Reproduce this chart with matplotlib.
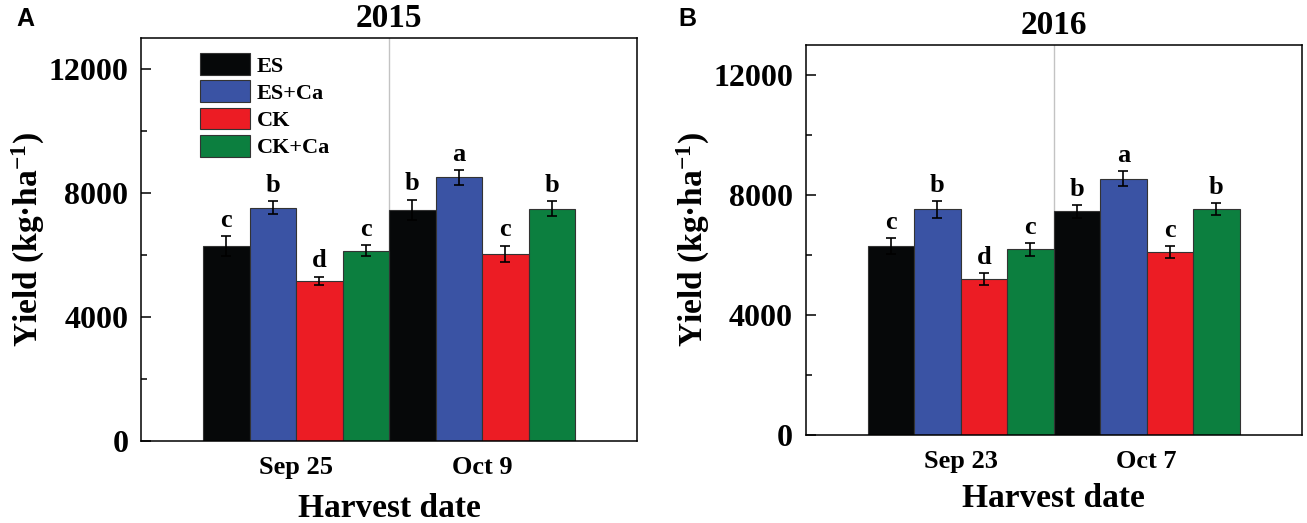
import matplotlib
matplotlib.use("Agg")
import matplotlib.pyplot as plt
import numpy as np

plt.rcParams["font.family"] = ["Liberation Serif", "DejaVu Serif"]
plt.rcParams["font.weight"] = "bold"
plt.rcParams["mathtext.fontset"] = "custom"
plt.rcParams["mathtext.rm"] = "Liberation Serif:bold"
plt.rcParams["mathtext.bf"] = "Liberation Serif:bold"
plt.rcParams["mathtext.default"] = "bf"

# data
treatments = ["ES", "ES+Ca", "CK", "CK+Ca"]
colors = ["#060809", "#3a53a4", "#ec1c24", "#0c7f3f"]

dates_2015 = ["Sep 25", "Oct 9"]
yield_2015 = {
    "ES": [6290, 7460],
    "ES+Ca": [7530, 8505],
    "CK": [5160, 6045],
    "CK+Ca": [6140, 7495],
}
err_2015 = {
    "ES": [330, 330],
    "ES+Ca": [200, 250],
    "CK": [140, 260],
    "CK+Ca": [180, 240],
}
letters_2015 = {
    "ES": ["c", "b"],
    "ES+Ca": ["b", "a"],
    "CK": ["d", "c"],
    "CK+Ca": ["c", "b"],
}

dates_2016 = ["Sep 23", "Oct 7"]
yield_2016 = {
    "ES": [6305, 7457],
    "ES+Ca": [7524, 8543],
    "CK": [5197, 6105],
    "CK+Ca": [6183, 7524],
}
err_2016 = {
    "ES": [270, 220],
    "ES+Ca": [280, 255],
    "CK": [190, 200],
    "CK+Ca": [210, 200],
}
letters_2016 = {
    "ES": ["c", "b"],
    "ES+Ca": ["b", "a"],
    "CK": ["d", "c"],
    "CK+Ca": ["c", "b"],
}

fig = plt.figure(figsize=(13.07, 5.23), dpi=100)
axA = fig.add_axes([0.1077, 0.1574, 0.3800, 0.7694])
axB = fig.add_axes([0.6163, 0.1683, 0.3797, 0.7457])

width = 0.25


def draw_panel(ax, year, dates, vals, errs, letters, xpad, legend=False):
    groups = np.arange(1, len(dates) + 1)
    ax.axvline(1.5, color="#c3c3c3", lw=1.0, zorder=0)
    for i, t in enumerate(treatments):
        xs = groups + (i - 1.5) * width
        ax.bar(xs, vals[t], width, color=colors[i], edgecolor="#333333",
               linewidth=0.8, label=t, zorder=2)
        ax.errorbar(xs, vals[t], yerr=errs[t], fmt="none", ecolor="black",
                    elinewidth=1.2, capsize=3.5, capthick=1.2, zorder=3)
        for x, v, e, lt in zip(xs, vals[t], errs[t], letters[t]):
            ax.annotate(lt, (x, v + e), xytext=(0, 3), textcoords="offset points",
                        ha="center", va="bottom", fontsize=19, fontweight="bold")
    ax.set_xlim(0.165, 2.835)
    ax.set_ylim(0, 13000)
    ax.set_xticks(groups)
    ax.set_xticklabels(dates, fontsize=19, fontweight="bold")
    ax.set_yticks([0, 4000, 8000, 12000])
    ax.set_yticks(np.arange(0, 13000, 2000), minor=True)
    ax.tick_params(axis="y", which="major", direction="in", length=7, width=1.1,
                   labelsize=23, pad=9)
    ax.tick_params(axis="y", which="minor", direction="in", length=4, width=1.1)
    ax.tick_params(axis="x", which="both", length=0, pad=11)
    for s in ax.spines.values():
        s.set_linewidth(1.1)
    ax.set_ylabel("Yield (kg·ha$^{-1}$)", fontsize=24, fontweight="bold", labelpad=1)
    ax.set_xlabel("Harvest date", fontsize=24, fontweight="bold", labelpad=xpad)
    ax.set_title(year, fontsize=24, fontweight="bold", pad=8)
    if legend:
        ax.legend(loc="upper left", bbox_to_anchor=(0.119, 0.963), frameon=False,
                  handlelength=2.25, handleheight=1.13,
                  labelspacing=0.17, handletextpad=0.32, borderpad=0,
                  borderaxespad=0, prop={"weight": "bold", "size": 16})


draw_panel(axA, "2015", dates_2015, yield_2015, err_2015, letters_2015, 10, legend=True)
draw_panel(axB, "2016", dates_2016, yield_2016, err_2016, letters_2016, 7)

fig.text(0.0127, 0.987, "A", family="Liberation Sans", fontsize=18,
         fontweight="bold", va="top", ha="left")
fig.text(0.5188, 0.987, "B", family="Liberation Sans", fontsize=18,
         fontweight="bold", va="top", ha="left")

fig.savefig("out.png", dpi=100)
